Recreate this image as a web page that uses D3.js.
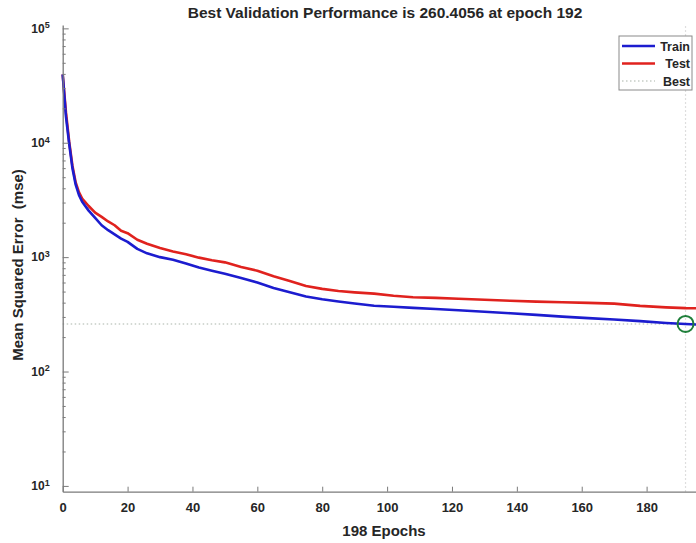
<!DOCTYPE html>
<html>
<head>
<meta charset="utf-8">
<script src="https://cdn.jsdelivr.net/npm/d3@7/dist/d3.min.js"></script>
<style>
  html, body { margin: 0; padding: 0; background: #fff; }
  svg { display: block; font-family: "Liberation Sans", Arial, sans-serif; }
</style>
</head>
<body>
<svg id="chart" width="696" height="543"></svg>
<script>
// Training record: mean squared error per epoch
const epochs = [0, 1, 2, 3, 4, 5, 6, 8, 10, 12, 14, 16, 18, 20, 23, 26, 30, 34, 38, 42, 46, 50,
  55, 60, 65, 70, 75, 80, 85, 90, 96, 102, 108, 115, 122, 130, 138, 146, 154, 162, 170, 178, 186, 192, 198];
const trainMse = [39500, 17000, 9800, 6000, 4300, 3500, 3050, 2550, 2200, 1900, 1720, 1580, 1450, 1360,
  1180, 1080, 1000, 948, 880, 810, 760, 715, 656, 600, 537, 493, 453, 428, 410, 393, 376, 368, 360,
  352, 343, 333, 323, 313, 302, 293, 285, 276, 266, 260.4, 256];
const testMse = [39500, 18500, 10200, 6300, 4500, 3700, 3250, 2800, 2450, 2250, 2050, 1900, 1700, 1620,
  1420, 1310, 1200, 1120, 1060, 990, 940, 900, 820, 760, 680, 620, 560, 528, 505, 492, 480, 460, 446,
  440, 433, 424, 415, 408, 403, 398, 392, 375, 364, 358, 356];
const bestEpoch = 192;
const bestPerf = 260.4056;
const totalEpochs = 198;
const xTicks = [0, 20, 40, 60, 80, 100, 120, 140, 160, 180];
const yMajorTicks = [10, 100, 1000, 10000, 100000];
const legendLabels = ["Train", "Test", "Best"];

const svg = d3.select("#chart");
const axisColor = "#7a7a7a";
const textColor = "#262626";

const x = d3.scaleLinear().domain([0, totalEpochs]).range([62.7, 705]);
const y = d3.scaleLog().domain([8.9, 107000]).range([491.7, 25]);

// Title
svg.append("text")
  .attr("x", 385).attr("y", 18)
  .attr("text-anchor", "middle")
  .attr("font-size", 15.5).attr("font-weight", "bold").attr("fill", textColor)
  .text(`Best Validation Performance is ${bestPerf} at epoch ${bestEpoch}`);

// Axis titles
svg.append("text")
  .attr("x", 384).attr("y", 536)
  .attr("text-anchor", "middle")
  .attr("font-size", 15).attr("font-weight", "bold").attr("fill", textColor)
  .text(`${totalEpochs} Epochs`);

svg.append("text")
  .attr("transform", "translate(23,265) rotate(-90)")
  .attr("text-anchor", "middle")
  .style("white-space", "pre")
  .attr("font-size", 15).attr("font-weight", "bold").attr("fill", textColor)
  .text("Mean Squared Error  (mse)");

// Best reference lines (dotted)
const bestColor = "#a9b3a9";
svg.append("line")
  .attr("x1", x(0)).attr("x2", x(bestEpoch))
  .attr("y1", y(bestPerf)).attr("y2", y(bestPerf))
  .attr("stroke", bestColor).attr("stroke-width", 1.2)
  .attr("stroke-dasharray", "1.5,2.5");
svg.append("line")
  .attr("x1", x(bestEpoch)).attr("x2", x(bestEpoch))
  .attr("y1", y.range()[0]).attr("y2", y.range()[1])
  .attr("stroke", "#d4d4d4").attr("stroke-width", 1.2)
  .attr("stroke-dasharray", "1.5,2.5");

// Performance curves
const line = d3.line().x(d => x(d[0])).y(d => y(d[1]));
const trainPts = epochs.map((e, i) => [e, trainMse[i]]);
const testPts = epochs.map((e, i) => [e, testMse[i]]);

svg.append("path").datum(testPts)
  .attr("d", line).attr("fill", "none")
  .attr("stroke", "#e0221e").attr("stroke-width", 2.6).attr("stroke-linejoin", "round");
svg.append("path").datum(trainPts)
  .attr("d", line).attr("fill", "none")
  .attr("stroke", "#1c1ccf").attr("stroke-width", 2.6).attr("stroke-linejoin", "round");

// Best point marker
svg.append("circle")
  .attr("cx", x(bestEpoch)).attr("cy", y(bestPerf)).attr("r", 8)
  .attr("fill", "none").attr("stroke", "#1f7f3a").attr("stroke-width", 2);

// X axis
const xAxis = svg.append("g")
  .attr("transform", `translate(0,${y.range()[0]})`)
  .call(d3.axisBottom(x).tickValues(xTicks).tickSize(-5).tickSizeOuter(0).tickPadding(11));
xAxis.select(".domain").attr("stroke", axisColor).attr("stroke-width", 1.3);
xAxis.selectAll(".tick line").attr("stroke", axisColor);
xAxis.selectAll(".tick text")
  .attr("font-size", 13).attr("font-weight", "bold").attr("fill", textColor)
  .attr("font-family", "Liberation Sans, Arial, sans-serif");

// Y axis: minor ticks then majors with powers-of-ten labels
const yMinor = [];
for (let p = 1; p <= 4; p++) for (let m = 2; m <= 9; m++) yMinor.push(m * Math.pow(10, p));
const yMinorAxis = svg.append("g")
  .attr("transform", `translate(${x(0)},0)`)
  .call(d3.axisLeft(y).tickValues(yMinor).tickSize(-3).tickSizeOuter(0).tickFormat(""));
yMinorAxis.select(".domain").remove();
yMinorAxis.selectAll(".tick line").attr("stroke", axisColor);

const yAxis = svg.append("g")
  .attr("transform", `translate(${x(0)},0)`)
  .call(d3.axisLeft(y).tickValues(yMajorTicks).tickSize(-6).tickSizeOuter(0).tickPadding(13).tickFormat(""));
yAxis.select(".domain").attr("stroke", axisColor).attr("stroke-width", 1.3);
yAxis.selectAll(".tick line").attr("stroke", axisColor);
yAxis.selectAll(".tick text")
  .attr("font-size", 12).attr("font-weight", "bold").attr("fill", textColor)
  .attr("font-family", "Liberation Sans, Arial, sans-serif")
  .each(function(d) {
    const t = d3.select(this);
    t.append("tspan").text("10");
    t.append("tspan").attr("dy", "-0.5em").attr("font-size", 9).text(Math.round(Math.log10(d)));
  });

// Legend
const lg = svg.append("g").attr("transform", "translate(619,36)");
lg.append("rect").attr("width", 73).attr("height", 54)
  .attr("fill", "#fff").attr("stroke", "#8a8a8a").attr("stroke-width", 1);
const legendStyles = [
  { color: "#1c1ccf", width: 2.6, dash: null },
  { color: "#e0221e", width: 2.6, dash: null },
  { color: "#a9b3a9", width: 1.2, dash: "1.5,2.5" }
];
legendLabels.forEach((lab, i) => {
  const yy = 10 + i * 17.5;
  const s = legendStyles[i];
  lg.append("line").attr("x1", 3).attr("x2", 36).attr("y1", yy).attr("y2", yy)
    .attr("stroke", s.color).attr("stroke-width", s.width)
    .attr("stroke-dasharray", s.dash);
  lg.append("text").attr("x", 71).attr("y", yy + 4.5)
    .attr("text-anchor", "end").attr("font-size", 12.5).attr("font-weight", "bold")
    .attr("fill", textColor).text(lab);
});
</script>
</body>
</html>
